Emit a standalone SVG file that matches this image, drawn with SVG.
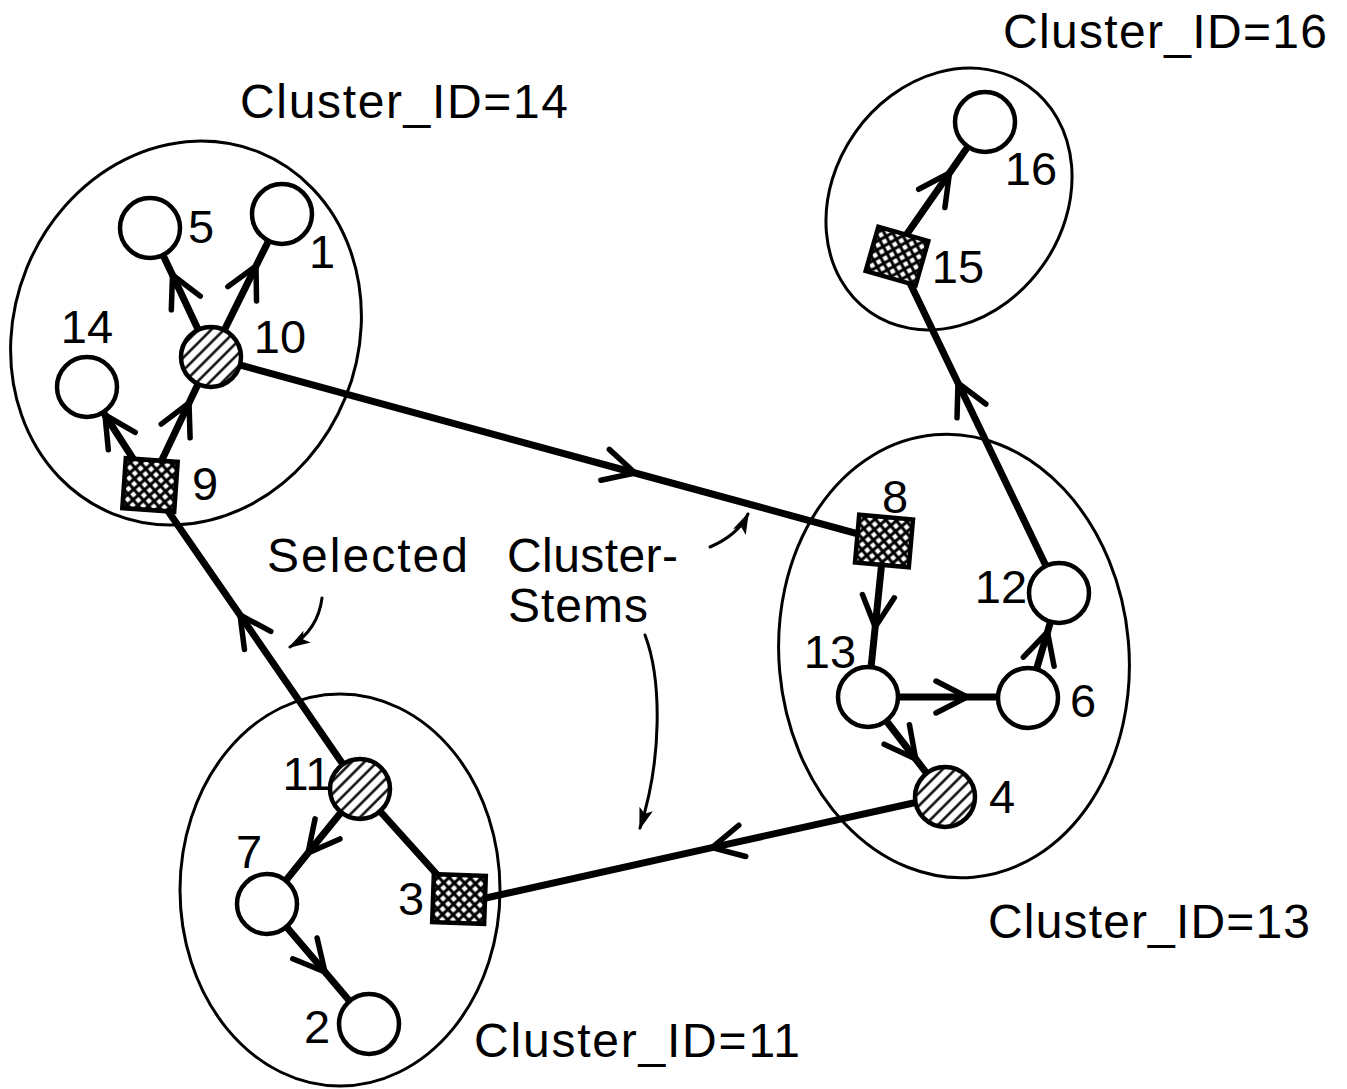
<svg xmlns="http://www.w3.org/2000/svg" width="1347" height="1089" viewBox="0 0 1347 1089">
  <defs>
    <style>
      .cluster { fill: none; stroke: #000; stroke-width: 3; }
      .edge { fill: none; stroke: #000; stroke-width: 7; stroke-linecap: round; marker-mid: url(#chev); }
      .link { fill: none; stroke: #000; stroke-width: 7; stroke-linecap: round; }
      .note { fill: none; stroke: #000; stroke-width: 3; stroke-linecap: round; marker-end: url(#tip); }
      .plain { fill: #fff; stroke: #000; stroke-width: 4.5; }
      .head { fill: url(#hatch); stroke: #000; stroke-width: 4.5; }
      .stem { fill: url(#xhatch); stroke: #000; stroke-width: 4.5; }
      text { font-family: "Liberation Sans", Arial, sans-serif; fill: #000; }
      .num { font-size: 47px; text-anchor: middle; }
      .title { font-size: 48px; }
    </style>
    <marker id="chev" markerUnits="userSpaceOnUse" markerWidth="40" markerHeight="40" refX="0" refY="0" orient="auto" overflow="visible">
      <path d="M -31 -16 L 0 0 L -31 16" fill="none" stroke="#000" stroke-width="5.5" stroke-linecap="round" stroke-linejoin="round"/>
    </marker>
    <marker id="tip" markerUnits="userSpaceOnUse" markerWidth="30" markerHeight="30" refX="0" refY="0" orient="auto" overflow="visible">
      <path d="M -20 -7 L 2 0 L -20 7 L -15 0 z" fill="#000"/>
    </marker>
    <pattern id="hatch" patternUnits="userSpaceOnUse" width="9" height="9" patternTransform="rotate(-45)">
      <rect width="9" height="9" fill="#fff"/>
      <line x1="0" y1="4.5" x2="9" y2="4.5" stroke="#000" stroke-width="2.4"/>
    </pattern>
    <pattern id="xhatch" patternUnits="userSpaceOnUse" width="7.5" height="7.5" patternTransform="rotate(45)">
      <rect width="7.5" height="7.5" fill="#000"/>
      <rect x="1.5" y="1.5" width="4.5" height="4.5" fill="#fff"/>
    </pattern>
  </defs>

  <rect width="1347" height="1089" fill="#fff"/>

  <!-- cluster outlines -->
  <g id="clusters">
    <ellipse id="cluster-14" class="cluster" cx="186" cy="333" rx="172" ry="195" transform="rotate(22 186 333)"/>
    <ellipse id="cluster-16" class="cluster" cx="949" cy="199" rx="115" ry="138" transform="rotate(35 949 199)"/>
    <ellipse id="cluster-13" class="cluster" cx="954" cy="656" rx="175" ry="222" transform="rotate(-5 954 656)"/>
    <ellipse id="cluster-11" class="cluster" cx="340" cy="890" rx="160" ry="196"/>
  </g>

  <!-- directed links between nodes -->
  <g id="connectors">
    <path class="edge" d="M 211 357 L 172.5 275 L 150 228"/>
    <path class="edge" d="M 211 357 L 256 266 L 282 214"/>
    <path class="edge" d="M 150 485 L 105 415 L 87 387"/>
    <path class="edge" d="M 150 485 L 189 403 L 211 357"/>
    <path class="edge" d="M 211 357 L 635 473 L 884 541"/>
    <path class="edge" d="M 360 789 L 240 615 L 150 485"/>
    <path class="edge" d="M 360 789 L 308 853 L 267 904"/>
    <path class="edge" d="M 267 904 L 325 972 L 369 1024"/>
    <path class="link" d="M 360 789 L 459 899"/>
    <path class="edge" d="M 945 796 L 712 847.6 L 459 904"/>
    <path class="edge" d="M 884 541 L 875.2 627 L 868 697"/>
    <path class="edge" d="M 868 697 L 967 697 L 1028 697"/>
    <path class="edge" d="M 868 697 L 915.7 759 L 945 797"/>
    <path class="edge" d="M 1028 698 L 1047.5 632 L 1059 593"/>
    <path class="edge" d="M 1059 593 L 958 383 L 897 256"/>
    <path class="edge" d="M 893 254 L 949.5 173 L 985 122"/>
  </g>

  <!-- nodes -->
  <g id="node-5"><circle class="plain" cx="150" cy="228" r="30"/><text class="num" x="201" y="243">5</text></g>
  <g id="node-1"><circle class="plain" cx="282" cy="214" r="30"/><text class="num" x="322" y="268">1</text></g>
  <g id="node-10"><circle class="head" cx="211" cy="357" r="30"/><text class="num" x="280" y="353">10</text></g>
  <g id="node-14"><circle class="plain" cx="87" cy="387" r="30"/><text class="num" x="87" y="343">14</text></g>
  <g id="node-9"><rect class="stem" x="-26" y="-25" width="52" height="50" transform="translate(150 485) rotate(4)"/><text class="num" x="205" y="500">9</text></g>
  <g id="node-16"><circle class="plain" cx="985" cy="122" r="30"/><text class="num" x="1031" y="185">16</text></g>
  <g id="node-15"><rect class="stem" x="-26" y="-23" width="52" height="46" transform="translate(897 256) rotate(16)"/><text class="num" x="958" y="283">15</text></g>
  <g id="node-8"><rect class="stem" x="-27" y="-24" width="54" height="48" transform="translate(884 541) rotate(5)"/><text class="num" x="895" y="513">8</text></g>
  <g id="node-12"><circle class="plain" cx="1059" cy="593" r="30"/><text class="num" x="1001" y="603">12</text></g>
  <g id="node-13"><circle class="plain" cx="868" cy="697" r="30"/><text class="num" x="830" y="668">13</text></g>
  <g id="node-6"><circle class="plain" cx="1028" cy="698" r="30"/><text class="num" x="1083" y="717">6</text></g>
  <g id="node-4"><circle class="head" cx="945" cy="797" r="30"/><text class="num" x="1002" y="813">4</text></g>
  <g id="node-11"><circle class="head" cx="360" cy="789" r="30"/><text class="num" x="307" y="790">11</text></g>
  <g id="node-7"><circle class="plain" cx="267" cy="904" r="30"/><text class="num" x="249" y="868">7</text></g>
  <g id="node-3"><rect class="stem" x="-26" y="-24" width="52" height="48" transform="translate(459 899) rotate(2)"/><text class="num" x="411" y="915">3</text></g>
  <g id="node-2"><circle class="plain" cx="369" cy="1024" r="30"/><text class="num" x="317" y="1043">2</text></g>

  <!-- cluster captions -->
  <g id="captions">
    <text class="title" x="240" y="118" textLength="328" lengthAdjust="spacing">Cluster_ID=14</text>
    <text class="title" x="1003" y="48" textLength="324" lengthAdjust="spacing">Cluster_ID=16</text>
    <text class="title" x="988" y="938" textLength="322" lengthAdjust="spacing">Cluster_ID=13</text>
    <text class="title" x="474" y="1057" textLength="326" lengthAdjust="spacing">Cluster_ID=11</text>
  </g>

  <!-- annotation pointing at the selected stems -->
  <g id="annotation">
    <text class="title" x="267" y="572" textLength="201" lengthAdjust="spacing">Selected</text>
    <text class="title" x="507" y="572" textLength="171" lengthAdjust="spacing">Cluster-</text>
    <text class="title" x="508" y="622" textLength="140" lengthAdjust="spacing">Stems</text>
    <path class="note" d="M 322 598 Q 318 630 290 647"/>
    <path class="note" d="M 710 547 Q 738 535 748 514"/>
    <path class="note" d="M 645 635 C 662 680 662 760 640 828"/>
  </g>
</svg>
